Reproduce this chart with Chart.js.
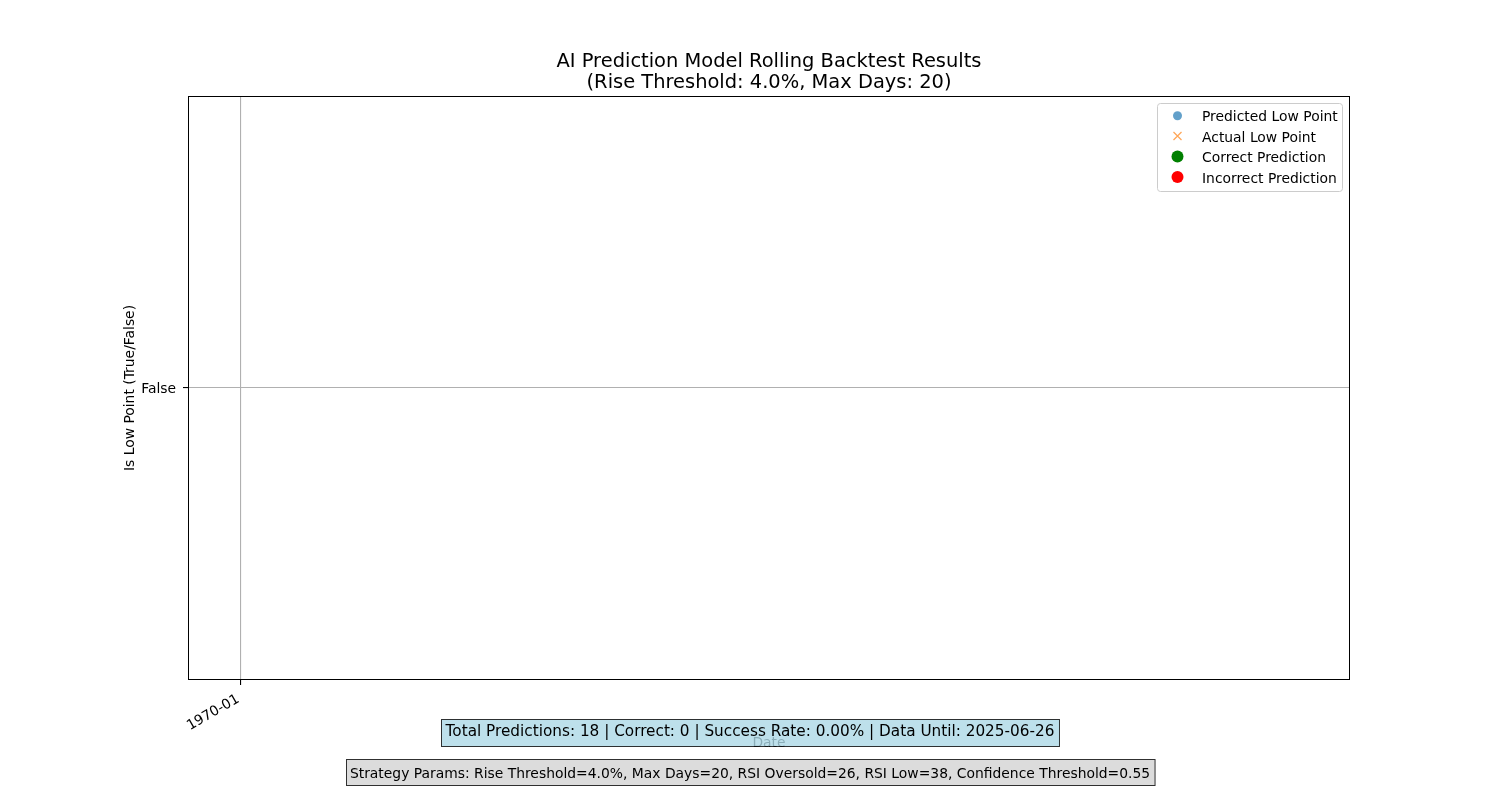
<!DOCTYPE html>
<html>
<head>
<meta charset="utf-8">
<script src="https://cdn.jsdelivr.net/npm/chart.js@4/dist/chart.umd.min.js"></script>
<style>
html,body{margin:0;padding:0;background:#fff;}
#wrap{width:1500px;height:800px;position:relative;}
</style>
</head>
<body>
<div id="wrap"><canvas id="c" width="1500" height="800"></canvas></div>
<script>
// ---- data ----
const titleLines = ['AI Prediction Model Rolling Backtest Results', '(Rise Threshold: 4.0%, Max Days: 20)'];
const seriesLabels = ['Predicted Low Point', 'Actual Low Point', 'Correct Prediction', 'Incorrect Prediction'];
const predictedLow = [];
const actualLow = [];
const correctPred = [];
const incorrectPred = [];
const xTickValues = [0.045];
const xTickLabels = ['1970-01'];
const yTickValues = [0];
const yTickLabels = ['False'];
const xLabel = 'Date';
const yLabel = 'Is Low Point (True/False)';
const summaryText = 'Total Predictions: 18 | Correct: 0 | Success Rate: 0.00% | Data Until: 2025-06-26';
const paramsText = 'Strategy Params: Rise Threshold=4.0%, Max Days=20, RSI Oversold=26, RSI Low=38, Confidence Threshold=0.55';

const FONT = "'DejaVu Sans', sans-serif";
const F10 = 13.89, F11 = 15.28, F14 = 19.44;
const CA = {left:188, right:1350, top:96, bottom:680};

const overlay = {
  id: 'overlay',
  afterDraw(chart) {
    const ctx = chart.ctx;
    const a = chart.chartArea;
    ctx.save();
    // frame
    ctx.strokeStyle = '#000';
    ctx.lineWidth = 1;
    ctx.strokeRect(a.left + 0.5, a.top + 0.5, a.right - a.left - 1, a.bottom - a.top - 1);
    const cx = (a.left + a.right) / 2;
    // title
    ctx.fillStyle = '#000';
    ctx.font = F14 + 'px ' + FONT;
    ctx.textAlign = 'center';
    ctx.textBaseline = 'alphabetic';
    ctx.fillText(titleLines[0], cx, 67);
    ctx.fillText(titleLines[1], cx, 88);
    // y label
    ctx.font = F10 + 'px ' + FONT;
    ctx.save();
    ctx.translate(134, (a.top + a.bottom) / 2);
    ctx.rotate(-Math.PI / 2);
    ctx.fillText(yLabel, 0, 0);
    ctx.restore();
    // x label (behind box)
    ctx.fillText(xLabel, cx, 747);
    // legend
    const lx = 1157.5, ly = 103.5, lw = 185, lh = 88;
    ctx.beginPath();
    ctx.roundRect(lx, ly, lw, lh, 3);
    ctx.fillStyle = 'rgba(255,255,255,0.8)';
    ctx.fill();
    ctx.strokeStyle = '#cccccc';
    ctx.lineWidth = 1;
    ctx.stroke();
    const ds = chart.data.datasets;
    const markY = [115.7, 136, 156.5, 177];
    const textY = [121, 141.5, 162, 182.5];
    ds.forEach((d, i) => {
      const my = markY[i], mx = 1177.5;
      ctx.save();
      if (d.pointStyle === 'cross' || d.pointStyle === 'crossRot') {
        ctx.strokeStyle = d.borderColor;
        ctx.lineWidth = 1.2;
        const s = 4;
        ctx.beginPath();
        ctx.moveTo(mx - s, my - s); ctx.lineTo(mx + s, my + s);
        ctx.moveTo(mx - s, my + s); ctx.lineTo(mx + s, my - s);
        ctx.stroke();
      } else {
        ctx.fillStyle = d.backgroundColor;
        ctx.beginPath();
        ctx.arc(mx, my, d.pointRadius, 0, Math.PI * 2);
        ctx.fill();
      }
      ctx.restore();
      ctx.fillStyle = '#000';
      ctx.font = F10 + 'px ' + FONT;
      ctx.textAlign = 'left';
      ctx.textBaseline = 'alphabetic';
      ctx.fillText(d.label, 1202, textY[i]);
    });
    // summary boxes
    function box(text, fs, y, h, base, fill) {
      ctx.font = fs + 'px ' + FONT;
      const w = ctx.measureText(text).width + 0.6 * fs;
      const x = Math.round(750 - w / 2) + 0.5;
      ctx.fillStyle = fill;
      ctx.fillRect(x, y, w, h);
      ctx.strokeStyle = 'rgba(0,0,0,0.8)';
      ctx.lineWidth = 1;
      ctx.strokeRect(x, y, w, h);
      ctx.fillStyle = '#000';
      ctx.textAlign = 'center';
      ctx.textBaseline = 'alphabetic';
      ctx.fillText(text, 750, base);
    }
    box(summaryText, F11, 719.5, 27, 736, 'rgba(173,216,230,0.8)');
    box(paramsText, F10, 759.5, 26, 777.5, 'rgba(211,211,211,0.8)');
    ctx.restore();
  }
};

new Chart(document.getElementById('c'), {
  type: 'scatter',
  data: {
    datasets: [
      {label: seriesLabels[0], data: predictedLow, backgroundColor: 'rgba(31,119,180,0.7)', borderColor: 'rgba(31,119,180,0.7)', pointRadius: 4.5, pointStyle: 'circle'},
      {label: seriesLabels[1], data: actualLow, backgroundColor: 'rgba(255,127,14,0.7)', borderColor: 'rgba(255,127,14,0.7)', pointRadius: 4, pointStyle: 'crossRot'},
      {label: seriesLabels[2], data: correctPred, backgroundColor: '#008000', borderColor: '#008000', pointRadius: 6, pointStyle: 'circle'},
      {label: seriesLabels[3], data: incorrectPred, backgroundColor: '#ff0000', borderColor: '#ff0000', pointRadius: 6, pointStyle: 'circle'}
    ]
  },
  options: {
    responsive: false,
    animation: false,
    events: [],
    layout: {padding: {top: CA.top, right: 1500 - CA.right, left: 0, bottom: 0}},
    plugins: {legend: {display: false}, title: {display: false}, tooltip: {enabled: false}},
    scales: {
      x: {
        type: 'linear', min: 0, max: 1,
        afterFit(s) { s.height = 800 - CA.bottom; },
        afterBuildTicks(s) { s.ticks = xTickValues.map(v => ({value: v})); },
        grid: {color: '#b0b0b0', lineWidth: 1.1, tickColor: '#000', tickLength: 5, drawTicks: true},
        border: {display: false},
        ticks: {
          color: '#000', font: {family: FONT, size: F10}, padding: 6, labelOffset: -2,
          minRotation: 30, maxRotation: 30, autoSkip: false,
          callback(v) { const i = xTickValues.indexOf(v); return i >= 0 ? xTickLabels[i] : ''; }
        }
      },
      y: {
        type: 'linear', min: -1, max: 1,
        afterFit(s) { s.width = CA.left; },
        afterBuildTicks(s) { s.ticks = yTickValues.map(v => ({value: v})); },
        grid: {color: '#b0b0b0', lineWidth: 1.1, tickColor: '#000', tickLength: 5, drawTicks: true},
        border: {display: false},
        ticks: {
          color: '#000', font: {family: FONT, size: F10}, padding: 7, labelOffset: 1.5,
          callback(v) { const i = yTickValues.indexOf(v); return i >= 0 ? yTickLabels[i] : ''; }
        }
      }
    }
  },
  plugins: [overlay]
});
</script>
</body>
</html>
